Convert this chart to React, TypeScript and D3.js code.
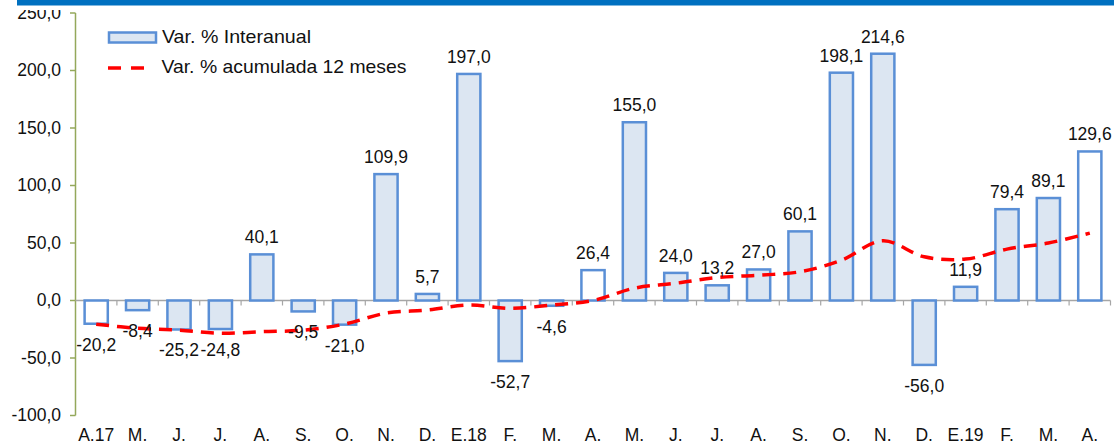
import React from "react";
import * as d3 from "d3";

const categories = ["A.17","M.","J.","J.","A.","S.","O.","N.","D.","E.18","F.","M.","A.","M.","J.","J.","A.","S.","O.","N.","D.","E.19","F.","M.","A."];
const interanual = [-20.2,-8.4,-25.2,-24.8,40.1,-9.5,-21.0,109.9,5.7,197.0,-52.7,-4.6,26.4,155.0,24.0,13.2,27.0,60.1,198.1,214.6,-56.0,11.9,79.4,89.1,129.6];
const acumulada = [-20.6,-24.2,-25.8,-28.5,-27.1,-25.8,-20.5,-11,-8.3,-4,-6.8,-4,0,10.7,15,20,22,25,35,52,38,36,44.7,50,58.6];
const whiteFill = [0, 12, 24];
const yTicks = [-100, -50, 0, 50, 100, 150, 200, 250];
const seriesNames = ["Var. % Interanual", "Var. % acumulada 12 meses"];

const W = 1114, H = 443;
const FONT = "'Liberation Sans', Arial, sans-serif";
const fmt = (v: number) => v.toFixed(1).replace(".", ",");

export default function App() {
  const x = d3.scaleBand<number>().domain(categories.map((_, i) => i)).range([75.5, 1110.5]).paddingInner(0.44).paddingOuter(0.22);
  const xb = d3.scaleBand<number>().domain(categories.map((_, i) => i)).range([75.5, 1110.5]);
  const y = d3.scaleLinear().domain([-100, 250]).range([415.5, 13]);
  const line = d3.line<number>().x((_, i) => (xb(i) as number) + xb.bandwidth() / 2).y(d => y(d)).curve(d3.curveCatmullRom.alpha(0.5));
  const y0 = y(0);
  return (
    <svg width={W} height={H} style={{ position: "absolute", left: 0, top: 0, background: "#fff" }} fontFamily={FONT}>
      <defs>
        <clipPath id="lblclip"><rect x={0} y={10} width={W} height={H - 10} /></clipPath>
      </defs>
      {/* y axis labels */}
      {yTicks.map(t => (
        <g key={t}>
          <line x1={70} x2={75.5} y1={y(t)} y2={y(t)} stroke="#94A85B" strokeWidth={1.5} />
          <text x={61} y={y(t) + 5.8} textAnchor="end" fontSize={17.5} fill="#111" clipPath="url(#lblclip)">{fmt(t)}</text>
        </g>
      ))}
      <line x1={75.5} x2={75.5} y1={y(250)} y2={y(-100)} stroke="#94A85B" strokeWidth={1.5} />
      {/* x axis */}
      <line x1={75.5} x2={1110.5} y1={y0} y2={y0} stroke="#A6A6A6" strokeWidth={1.5} />
      {categories.map((_, i) => (
        <line key={"t" + i} x1={(xb(i) as number) + xb.bandwidth()} x2={(xb(i) as number) + xb.bandwidth()} y1={y0} y2={y0 + 5} stroke="#A6A6A6" strokeWidth={1.2} />
      ))}
      {/* bars */}
      {interanual.map((v, i) => (
        <rect key={"b" + i} x={x(i)} width={x.bandwidth()} y={Math.min(y(v), y0)} height={Math.abs(y(v) - y0)}
          fill={whiteFill.includes(i) ? "#FFFFFF" : "#DCE6F2"} stroke="#5A8FD6" strokeWidth={2.5} />
      ))}
      {/* line */}
      <path d={line(acumulada) || ""} fill="none" stroke="#FF0000" strokeWidth={3.5} strokeDasharray="13,8" />
      {/* labels */}
      {interanual.map((v, i) => (
        <text key={"l" + i} x={(xb(i) as number) + xb.bandwidth() / 2} y={v >= 0 ? y(v) - 11 : y(v) + 27}
          textAnchor="middle" fontSize={17.5} fill="#111">{fmt(v)}</text>
      ))}
      {categories.map((c, i) => (
        <text key={"c" + i} x={(xb(i) as number) + xb.bandwidth() / 2} y={441} textAnchor="middle" fontSize={17.5} fill="#111">{c}</text>
      ))}
      {/* legend */}
      <rect x={109} y={32.5} width={47} height={10} fill="#DCE6F2" stroke="#5A8FD6" strokeWidth={2.5} />
      <text x={162} y={43.3} fontSize={18.5} fill="#111" textLength={149} lengthAdjust="spacingAndGlyphs">{seriesNames[0]}</text>
      <line x1={108} x2={144} y1={68} y2={68} stroke="#FF0000" strokeWidth={3.5} strokeDasharray="13,10" />
      <text x={161.5} y={73.3} fontSize={18.5} fill="#111" textLength={245} lengthAdjust="spacingAndGlyphs">{seriesNames[1]}</text>
      {/* top band */}
      <rect x={17} y={0} width={W - 17} height={5.5} fill="#0070C0" />
    </svg>
  );
}
